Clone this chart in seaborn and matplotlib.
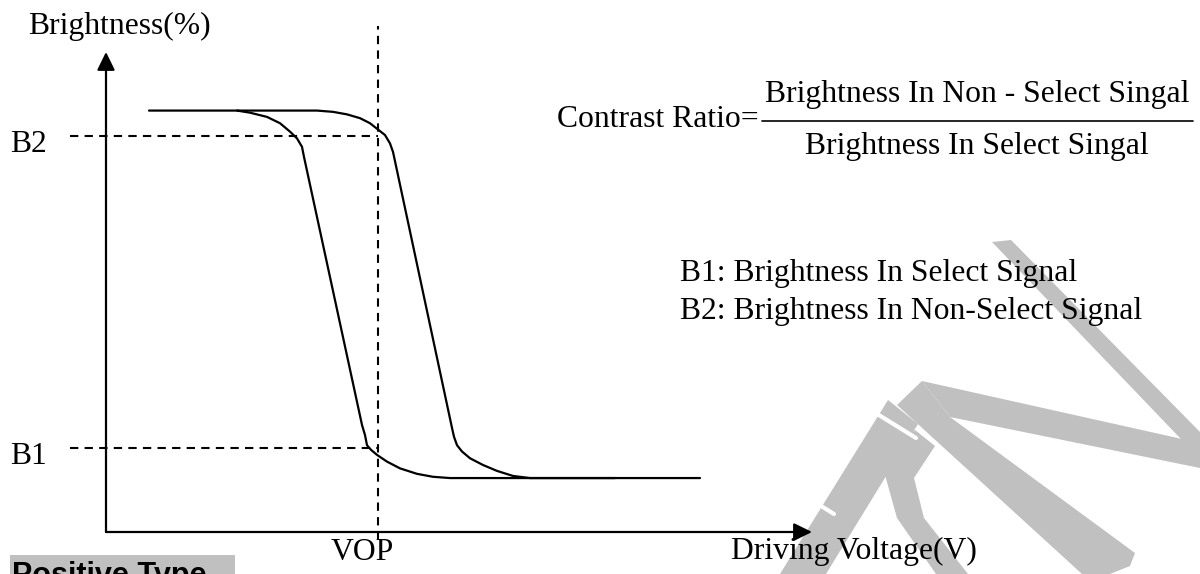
import pandas as pd
import matplotlib.pyplot as plt
import seaborn as sns
from matplotlib.patches import Polygon, Rectangle
from matplotlib.lines import Line2D

# ==========================
# Data
# ==========================
# driving voltage (V) / brightness (%) along the two response curves
curve1_v = [0.43, 1.31, 1.44, 1.61, 1.74, 1.84, 1.91, 1.96, 1.98, 2.56, 2.59, 2.61, 2.65,
            2.71, 2.81, 2.94, 3.11, 3.27, 3.44, 5.09]
curve1_b = [100, 100, 99.5, 98.5, 97.0, 95.0, 93.4, 91.4, 89.0, 25.4, 23.0, 20.6, 19.5,
            18.3, 16.7, 15.1, 13.8, 13.1, 12.8, 12.8]
curve2_v = [1.31, 2.11, 2.27, 2.41, 2.54, 2.64, 2.72, 2.79, 2.84, 2.87, 3.46, 3.48, 3.51,
            3.56, 3.64, 3.77, 3.91, 4.07, 4.24, 5.94]
curve2_b = [100, 100, 99.7, 99.1, 98.2, 97.0, 95.5, 94.2, 92.2, 90.2, 24.7, 22.6, 20.6,
            19.1, 17.5, 15.9, 14.5, 13.3, 12.8, 12.8]

level_names = ["B1", "B2"]
level_values = [20, 94]
vop = 2.72

legend_lines = ["B1: Brightness In Select Signal",
                "B2: Brightness In Non-Select Signal"]
numerator = "Brightness In Non - Select Singal"
denominator = "Brightness In Select Singal"

df = pd.concat([
    pd.DataFrame({"V": curve1_v, "B": curve1_b, "curve": "c1"}),
    pd.DataFrame({"V": curve2_v, "B": curve2_b, "curve": "c2"}),
])

# ==========================
# Figure
# ==========================
sns.set_theme(style="white")
plt.rcParams["font.family"] = ["Liberation Serif", "DejaVu Serif"]
plt.rcParams["text.color"] = "black"
FS = 22.8

W, H = 1200, 574
fig = plt.figure(figsize=(12, 5.74), dpi=100)


def fx(x):
    return x / W


def fy(y):
    return 1 - y / H


ax = fig.add_axes([fx(106), fy(532), 706 / W, 480 / H])
ax.set_xlim(0, 7.06)
ax.set_ylim(0, 113.9)
ax.patch.set_alpha(0)
for s in ax.spines.values():
    s.set_visible(False)
ax.set_xticks([])
ax.set_yticks([])

# curves
for name, g in df.groupby("curve"):
    sns.lineplot(data=g, x="V", y="B", sort=False, estimator=None,
                 color="black", lw=1.6, ax=ax, clip_on=False)
ax.set_xlabel("")
ax.set_ylabel("")

# axis arrows
arrow = dict(arrowstyle="-|>,head_length=0.55,head_width=0.27", color="black",
             lw=1.6, shrinkA=0, shrinkB=0, mutation_scale=20)
ax.annotate("", xy=(1, 0), xytext=(0, 0), xycoords="axes fraction", arrowprops=arrow)
ax.annotate("", xy=(0, 1), xytext=(0, 0), xycoords="axes fraction", arrowprops=arrow)

# dashed guides
dash = (0, (4, 3))
for name, val in zip(level_names, level_values):
    ax.plot([-0.36, vop], [val, val], color="black", lw=1.5, ls=dash, clip_on=False)
    ax.text(-0.96, val - 2, name, fontsize=FS, ha="left", va="center")
ax.plot([vop, vop], [-1.9, 120], color="black", lw=1.5, ls=dash, clip_on=False)

# texts
fig.text(fx(28), fy(34), "Brightness(%)", fontsize=FS, ha="left", va="baseline")
fig.text(fx(362), fy(552), "VOP", fontsize=FS, ha="center", va="center")
fig.text(fx(731), fy(551), "Driving Voltage(V)", fontsize=FS, ha="left", va="center")

fig.text(fx(759), fy(127), "Contrast Ratio=", fontsize=FS, ha="right", va="baseline")
fig.add_artist(Line2D([fx(762), fx(1193)], [fy(121), fy(121)], color="black", lw=1.2))
fig.text(fx(977), fy(102), numerator, fontsize=FS, ha="center", va="baseline")
fig.text(fx(977), fy(154), denominator, fontsize=FS, ha="center", va="baseline")

for i, line in enumerate(legend_lines):
    fig.text(fx(680), fy(281 + 38 * i), line, fontsize=FS, ha="left", va="baseline")

# watermark
gray = "#c0c0c0"
shapes = [
    [(992, 242), (1011, 240), (1200, 432), (1200, 456), (1180, 438)],
    [(922, 381), (1200, 443), (1200, 468), (950, 417)],
    [(922, 381), (950, 417), (1135, 553), (1130, 566), (1110, 574), (1082, 574), (897, 405)],
    [(888, 400), (918, 424), (826, 574), (780, 574)],
    [(915, 430), (935, 446), (914, 478), (924, 518), (968, 574), (936, 574), (897, 518),
     (885, 475), (890, 450)],
]
for pts in shapes:
    fig.add_artist(Polygon([(fx(x), fy(y)) for x, y in pts], closed=True,
                           facecolor=gray, edgecolor="none", zorder=-1))
for (x0, y0), (x1, y1) in [((874, 412), (916, 438)), ((792, 488), (834, 514))]:
    fig.add_artist(Line2D([fx(x0), fx(x1)], [fy(y0), fy(y1)], color="white", lw=3, zorder=-0.5))

# label box at the bottom
fig.add_artist(Rectangle((fx(10), fy(590)), 225 / W, 35 / H, facecolor=gray,
                         edgecolor="none", zorder=1))
fig.text(fx(12), fy(584), "Positive Type", fontsize=22, fontweight="bold",
         family=["Liberation Sans", "DejaVu Sans"], ha="left", va="baseline", zorder=2)

plt.savefig("out.png", dpi=100)
